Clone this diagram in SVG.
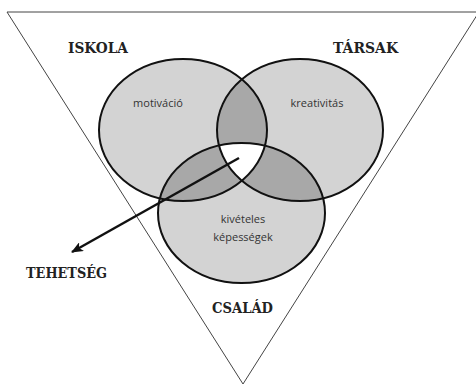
<svg xmlns="http://www.w3.org/2000/svg" width="476" height="386" viewBox="0 0 476 386">
<defs>
<style>
.ell{fill:none;stroke:#111;stroke-width:2}
.lbl{font-family:"Open Sans","Noto Sans",sans-serif;font-size:11px;fill:#333;text-anchor:middle}
.hd{font-family:"DejaVu Serif",serif;font-weight:bold;font-size:14px;fill:#222}
</style>
<clipPath id="cA"><ellipse cx="183" cy="130" rx="84" ry="71"/></clipPath>
<clipPath id="cB"><ellipse cx="300" cy="130" rx="83" ry="71"/></clipPath>
<clipPath id="cC"><ellipse cx="241.5" cy="213" rx="83.5" ry="70"/></clipPath>
<marker id="ah" viewBox="0 0 12 10" refX="11" refY="5" markerWidth="12" markerHeight="10" markerUnits="userSpaceOnUse" orient="auto">
<path d="M0,0 L12,5 L0,10 L3,5 Z" fill="#111"/>
</marker>
</defs>
<rect width="476" height="386" fill="#fff"/>
<g id="triangle">
<path d="M7,12 L479,12 L243,384 Z" fill="none" stroke="#444" stroke-width="1"/>
</g>
<g id="fills">
<ellipse cx="183" cy="130" rx="84" ry="71" fill="#d3d3d3"/>
<ellipse cx="300" cy="130" rx="83" ry="71" fill="#d3d3d3"/>
<ellipse cx="241.5" cy="213" rx="83.5" ry="70" fill="#d3d3d3"/>
<ellipse cx="300" cy="130" rx="83" ry="71" fill="#a8a8a8" clip-path="url(#cA)"/>
<ellipse cx="241.5" cy="213" rx="83.5" ry="70" fill="#a8a8a8" clip-path="url(#cA)"/>
<ellipse cx="241.5" cy="213" rx="83.5" ry="70" fill="#a8a8a8" clip-path="url(#cB)"/>
<g clip-path="url(#cA)"><ellipse cx="241.5" cy="213" rx="83.5" ry="70" fill="#fff" clip-path="url(#cB)"/></g>
</g>
<g id="iskola">
<ellipse class="ell" cx="183" cy="130" rx="84" ry="71"/>
<text class="lbl" x="158" y="107">motiváció</text>
<text class="hd" x="68" y="53" textLength="60" lengthAdjust="spacingAndGlyphs">ISKOLA</text>
</g>
<g id="tarsak">
<ellipse class="ell" cx="300" cy="130" rx="83" ry="71"/>
<text class="lbl" x="317" y="107">kreativitás</text>
<text class="hd" x="333" y="53" textLength="65" lengthAdjust="spacingAndGlyphs">TÁRSAK</text>
</g>
<g id="csalad">
<ellipse class="ell" cx="241.5" cy="213" rx="83.5" ry="70"/>
<text class="lbl" x="243" y="223">kivételes</text>
<text class="lbl" x="243" y="241">képességek</text>
<text class="hd" x="212" y="313" textLength="61" lengthAdjust="spacingAndGlyphs">CSALÁD</text>
</g>
<g id="tehetseg">
<text class="hd" x="26" y="278" textLength="81" lengthAdjust="spacingAndGlyphs">TEHETSÉG</text>
</g>
<g id="connectors">
<line x1="239" y1="158" x2="72" y2="252" stroke="#111" stroke-width="2.5" marker-end="url(#ah)"/>
</g>
</svg>
